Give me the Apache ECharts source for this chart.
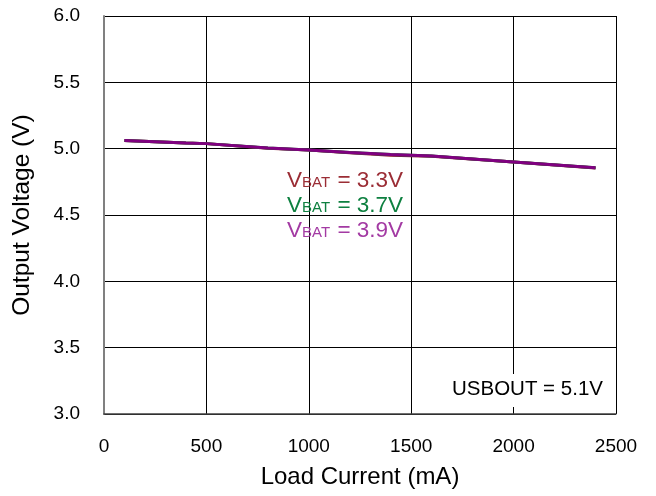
<!DOCTYPE html>
<html><head><meta charset="utf-8">
<script src="https://cdn.jsdelivr.net/npm/echarts@6/dist/echarts.min.js"></script>
<style>html,body{margin:0;padding:0;background:#fff}#c{width:656px;height:496px}</style>
</head><body><div id="c"></div>
<script>
const loadCurrent = [100, 400, 500, 800, 1000, 1200, 1400, 1600, 2000, 2400];
const vbat33 = [5.062, 5.042, 5.038, 5.004, 4.989, 4.970, 4.951, 4.943, 4.899, 4.854];
const vbat37 = [5.062, 5.042, 5.038, 5.005, 4.990, 4.972, 4.956, 4.944, 4.900, 4.856];
const vbat39 = [5.062, 5.042, 5.038, 5.005, 4.990, 4.972, 4.956, 4.944, 4.900, 4.857];
const xTicks = [0, 500, 1000, 1500, 2000, 2500];
const yTicks = [3.0, 3.5, 4.0, 4.5, 5.0, 5.5, 6.0];
const legendLabels = ['3.3V', '3.7V', '3.9V'];
const colors = ['#9B2D35', '#0E8040', '#A33AA3'];
const lineColors = ['#8B1A2A', '#1A7A3A', '#800080'];

const pair = v => loadCurrent.map((x, i) => [x, v[i]]);
const font = 'Liberation Sans, Arial, sans-serif';
const bigFs = 22.5, subFs = 15;
const legendGraphics = [];
legendLabels.forEach((t, i) => {
  const cy = 180.6 + i * 25;
  const mk = (text, x, y, fs) => ({
    type: 'text', x: x, y: y, z: 10,
    style: {text: text, fontFamily: font, fontSize: fs, fill: colors[i],
      align: 'left', verticalAlign: 'middle', textAlign: 'left', textVerticalAlign: 'middle'}
  });
  legendGraphics.push(mk('V', 287, cy, bigFs));
  legendGraphics.push(mk('BAT', 287 + 0.667 * bigFs, cy + 0.35 * (bigFs - subFs), subFs));
  legendGraphics.push(mk(' = ' + t, 287 + 0.667 * bigFs + 1.945 * subFs, cy, bigFs));
});

const chart = echarts.init(document.getElementById('c'));
chart.setOption({
  animation: false,
  grid: {left: 104, right: 40, top: 16, bottom: 82},
  xAxis: {
    type: 'value', min: xTicks[0], max: xTicks[xTicks.length-1], interval: 500,
    name: 'Load Current (mA)', nameLocation: 'middle', nameGap: 51,
    nameTextStyle: {fontFamily: font, fontSize: 24, color: '#000'},
    axisLine: {show: true, lineStyle: {color: '#404040', width: 1.5}},
    axisTick: {show: false},
    axisLabel: {fontFamily: font, fontSize: 19, color: '#000', margin: 23,
      formatter: v => String(v)},
    splitLine: {show: true, lineStyle: {color: '#000', width: 1}}
  },
  yAxis: {
    type: 'value', min: yTicks[0], max: yTicks[yTicks.length-1], interval: 0.5,
    name: 'Output Voltage (V)', nameLocation: 'middle', nameGap: 69,
    nameTextStyle: {fontFamily: font, fontSize: 24.5, color: '#000'},
    axisLine: {show: true, lineStyle: {color: '#808080', width: 2}},
    axisTick: {show: false},
    axisLabel: {fontFamily: font, fontSize: 19, color: '#000', margin: 24,
      formatter: v => v.toFixed(1)},
    splitLine: {show: true, lineStyle: {color: '#000', width: 1}}
  },
  series: [vbat33, vbat37, vbat39].map((v, i) => ({
    type: 'line', data: pair(v), symbol: 'none', smooth: false,
    lineStyle: {color: lineColors[i], width: 3}, z: 2 + i
  })),
  graphic: legendGraphics.concat([{
    type: 'text', left: 448, top: 374, z: 10,
    style: {text: 'USBOUT = 5.1V', fontFamily: font, fontSize: 20.5, fill: '#000',
      backgroundColor: '#fff', padding: [5, 4, 7, 4]}
  }])
});
</script></body></html>
